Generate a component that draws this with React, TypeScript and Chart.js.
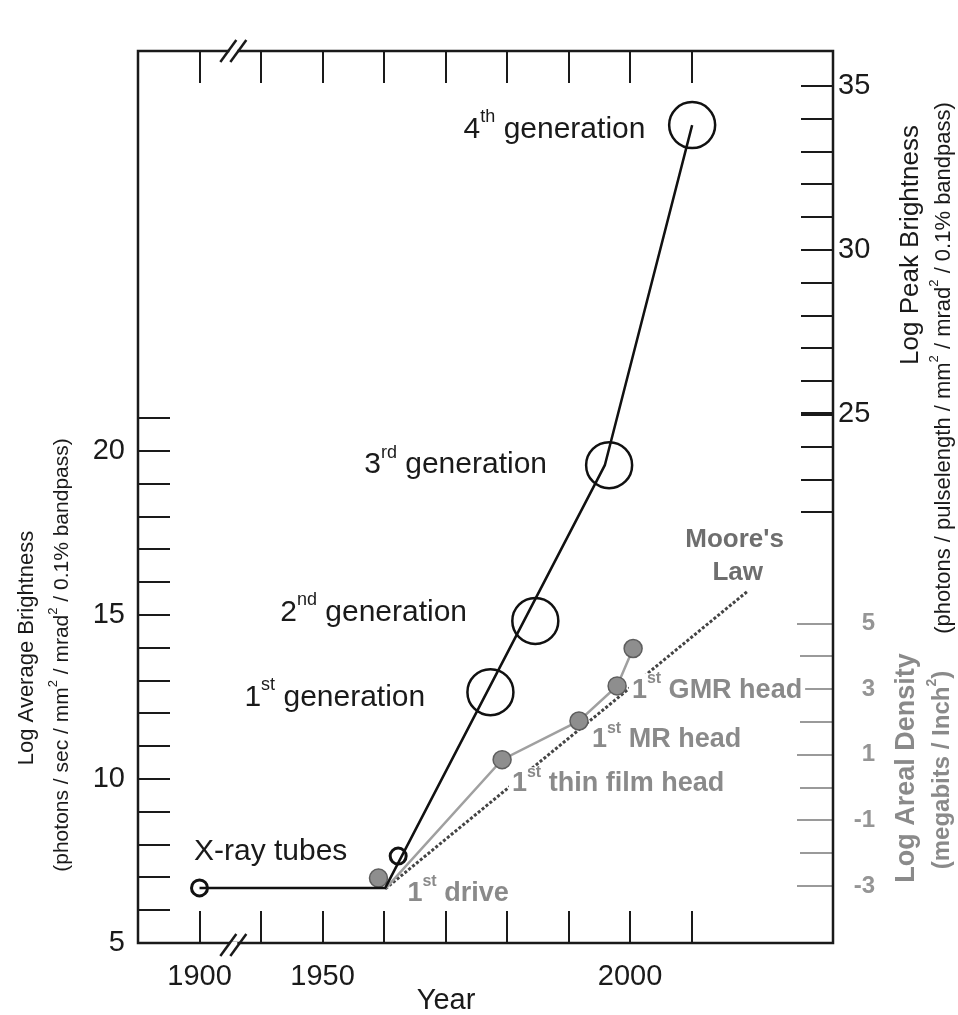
import React, { useEffect, useRef } from 'react';
import { Chart, registerables } from 'chart.js';

Chart.register(...registerables);

const FONT = "'Liberation Sans', Arial, Helvetica, sans-serif";

// ---- x axis (years), broken between 1900 and 1940 ----
const BREAK_SHIFT = 30; // 1900 is drawn where 1930 would be
const toX = (year: number) => (year < 1925 ? year + BREAK_SHIFT : year);
const fromX = (x: number) => (x < 1935 ? x - BREAK_SHIFT : x);
const X_MIN = 1920;
const X_MAX = 2033;
const X_BREAK = 1935.5;
const YEAR_TICKS = [1900, 1940, 1950, 1960, 1970, 1980, 1990, 2000, 2010];
const YEAR_LABELS = [1900, 1950, 2000];

// ---- y axes ----
const AVG_MIN = 5;
const AVG_MAX = 32.2;
const PEAK_OFFSET = 3.87; // log peak = log average + offset on this figure
const AREAL_OFFSET = -9.74; // log areal density = log average + offset
const AVG_TICKS = [6, 7, 8, 9, 10, 11, 12, 13, 14, 15, 16, 17, 18, 19, 20, 21];
const AVG_LABELS = [5, 10, 15, 20];
const PEAK_TICKS = [22, 23, 24, 25, 26, 27, 28, 29, 30, 31, 32, 33, 34, 35];
const PEAK_LABELS = [25, 30, 35];
const PEAK_BOLD_TICK = 25;
const AREAL_TICKS = [-3, -2, -1, 0, 1, 2, 3, 4, 5];
const AREAL_LABELS = [-3, -1, 1, 3, 5];

// ---- X-ray source brightness (log average brightness) ----
const SOURCE_YEARS = [1900, 1960.2, 1995.9, 2010.1];
const SOURCE_VALUES = [6.68, 6.68, 19.57, 29.94];
const GEN_YEARS = [1977.3, 1984.6, 1996.6, 2010.1];
const GEN_VALUES = [12.65, 14.82, 19.57, 29.94];
const GEN_NUM = ['1', '2', '3', '4'];
const GEN_ORD = ['st', 'nd', 'rd', 'th'];
const TUBE_YEARS = [1900, 1962.3];
const TUBE_VALUES = [6.68, 7.65];

// ---- disk drive areal density (log megabits / inch^2) ----
const DRIVE_LINE_YEARS = [1960.2, 1979.2, 1991.7, 1997.9, 2000.5];
const DRIVE_LINE_VALUES = [-3.09, 0.85, 2.03, 3.1, 4.24];
const DRIVE_POINT_YEARS = [1959.1, 1979.2, 1991.7, 1997.9, 2000.5];
const DRIVE_POINT_VALUES = [-2.76, 0.85, 2.03, 3.1, 4.24];
const MOORE_YEARS = [1960.2, 2019.2];
const MOORE_VALUES = [-3.09, 6.0];

// ---- annotation anchors (display-year, axis value) ----
const GEN_LABEL_RIGHT_X = [1966.7, 1973.5, 1986.5, 2002.5];
const GEN_LABEL_Y = [12.47, 15.06, 19.57, 29.79];
const TUBE_LABEL = { x: 1929.1, y: 7.77, text: 'X-ray tubes' };
const DRIVE_LABEL_X = [1963.8, 1980.8, 1993.8, 2000.3];
const DRIVE_LABEL_Y = [-3.22, 0.11, 1.45, 2.97];
const DRIVE_LABEL_TEXT = [' drive', ' thin film head', ' MR head', ' GMR head'];
const MOORE_LABEL_X = [2017.0, 2017.5];
const MOORE_LABEL_Y = [7.55, 6.54];
const MOORE_LABEL_TEXT = ["Moore's", 'Law'];

type Part = { t: string; sup?: boolean };

function partsWidth(ctx: CanvasRenderingContext2D, parts: Part[], size: number, weight: string) {
  let w = 0;
  for (const p of parts) {
    ctx.font = `${weight} ${p.sup ? Math.round(size * 0.6) : size}px ${FONT}`;
    w += ctx.measureText(p.t).width;
  }
  return w;
}

function drawRich(
  ctx: CanvasRenderingContext2D,
  parts: Part[],
  x: number,
  y: number,
  align: 'left' | 'right' | 'center',
  size: number,
  weight: string,
  color: string,
  bg = false
) {
  const w = partsWidth(ctx, parts, size, weight);
  let sx = x;
  if (align === 'right') sx = x - w;
  if (align === 'center') sx = x - w / 2;
  if (bg) {
    ctx.fillStyle = '#ffffff';
    ctx.fillRect(sx - 3, y - size * 0.62, w + 6, size * 1.15);
  }
  ctx.fillStyle = color;
  ctx.textAlign = 'left';
  ctx.textBaseline = 'middle';
  for (const p of parts) {
    const s = p.sup ? Math.round(size * 0.6) : size;
    ctx.font = `${weight} ${s}px ${FONT}`;
    ctx.fillText(p.t, sx, p.sup ? y - size * 0.42 : y);
    sx += ctx.measureText(p.t).width;
  }
}

function drawVertical(
  ctx: CanvasRenderingContext2D,
  parts: Part[],
  cx: number,
  cy: number,
  size: number,
  weight: string,
  color: string
) {
  ctx.save();
  ctx.translate(cx, cy);
  ctx.rotate(-Math.PI / 2);
  drawRich(ctx, parts, 0, 0, 'center', size, weight, color);
  ctx.restore();
}

const framePlugin = {
  id: 'frame',
  beforeDatasetsDraw(chart: any) {
    const ctx: CanvasRenderingContext2D = chart.ctx;
    const { left, right, top, bottom } = chart.chartArea;
    const sx = chart.scales.x;
    const sy = chart.scales.y;
    const sr = chart.scales.yR;
    const sa = chart.scales.yA;
    const ink = '#1a1a1a';
    ctx.save();
    ctx.lineCap = 'butt';
    ctx.strokeStyle = ink;
    ctx.lineWidth = 2;
    const TL = 32;
    for (const yr of YEAR_TICKS) {
      const px = Math.round(sx.getPixelForValue(toX(yr)));
      ctx.beginPath();
      ctx.moveTo(px, bottom);
      ctx.lineTo(px, bottom - TL);
      ctx.moveTo(px, top);
      ctx.lineTo(px, top + TL);
      ctx.stroke();
    }
    for (const v of AVG_TICKS) {
      const py = Math.round(sy.getPixelForValue(v));
      ctx.beginPath();
      ctx.moveTo(left, py);
      ctx.lineTo(left + TL, py);
      ctx.stroke();
    }
    for (const v of PEAK_TICKS) {
      const py = Math.round(sr.getPixelForValue(v));
      ctx.lineWidth = v === PEAK_BOLD_TICK ? 4 : 2;
      ctx.beginPath();
      ctx.moveTo(right, py);
      ctx.lineTo(right - TL, py);
      ctx.stroke();
    }
    ctx.strokeStyle = '#9a9a9a';
    ctx.lineWidth = 2;
    AREAL_TICKS.forEach((v, i) => {
      const py = Math.round(sa.getPixelForValue(v));
      ctx.beginPath();
      ctx.moveTo(right, py);
      ctx.lineTo(right - (i % 2 === 0 ? 36 : 33), py);
      ctx.stroke();
    });
    ctx.strokeStyle = ink;
    ctx.lineWidth = 2.5;
    ctx.beginPath();
    ctx.moveTo(left, top);
    ctx.lineTo(left, bottom);
    ctx.lineTo(right, bottom);
    ctx.lineTo(right, top);
    ctx.lineTo(left, top);
    ctx.closePath();
    ctx.stroke();
    const bx = sx.getPixelForValue(X_BREAK);
    for (const by of [top, bottom + 2]) {
      ctx.fillStyle = '#ffffff';
      ctx.fillRect(bx - 4, by - 3, 8, 6);
      ctx.strokeStyle = ink;
      ctx.lineWidth = 2.5;
      for (const dx of [-5, 5]) {
        ctx.beginPath();
        ctx.moveTo(bx + dx - 8, by + 11);
        ctx.lineTo(bx + dx + 8, by - 11);
        ctx.stroke();
      }
    }
    ctx.restore();
  },
  afterDatasetsDraw(chart: any) {
    const ctx: CanvasRenderingContext2D = chart.ctx;
    const sx = chart.scales.x;
    const sy = chart.scales.y;
    const sa = chart.scales.yA;
    const { right } = chart.chartArea;
    ctx.save();
    const ink = '#1a1a1a';
    const gray = '#8a8a8a';
    for (const v of AREAL_LABELS) {
      drawRich(ctx, [{ t: String(v) }], right + 42, sa.getPixelForValue(v), 'right', 24, 'bold', '#959595');
    }
    GEN_NUM.forEach((n, i) => {
      drawRich(
        ctx,
        [{ t: n }, { t: GEN_ORD[i], sup: true }, { t: ' generation' }],
        sx.getPixelForValue(GEN_LABEL_RIGHT_X[i]),
        sy.getPixelForValue(GEN_LABEL_Y[i]),
        'right',
        30,
        'normal',
        ink
      );
    });
    drawRich(ctx, [{ t: TUBE_LABEL.text }], sx.getPixelForValue(TUBE_LABEL.x), sy.getPixelForValue(TUBE_LABEL.y), 'left', 30, 'normal', ink);
    DRIVE_LABEL_TEXT.forEach((t, i) => {
      drawRich(
        ctx,
        [{ t: '1' }, { t: 'st', sup: true }, { t }],
        sx.getPixelForValue(DRIVE_LABEL_X[i]),
        sa.getPixelForValue(DRIVE_LABEL_Y[i]),
        'left',
        27,
        'bold',
        gray,
        true
      );
    });
    MOORE_LABEL_TEXT.forEach((t, i) => {
      drawRich(ctx, [{ t }], sx.getPixelForValue(MOORE_LABEL_X[i]), sa.getPixelForValue(MOORE_LABEL_Y[i]), 'center', 26, 'bold', '#6e6e6e');
    });
    drawRich(ctx, [{ t: 'Year' }], 446, 1001, 'center', 29, 'normal', ink);
    drawVertical(ctx, [{ t: 'Log Average Brightness' }], 27, 648, 22, 'normal', ink);
    drawVertical(
      ctx,
      [{ t: '(photons / sec / mm' }, { t: '2', sup: true }, { t: ' / mrad' }, { t: '2', sup: true }, { t: ' / 0.1% bandpass)' }],
      62,
      655,
      21,
      'normal',
      ink
    );
    drawVertical(ctx, [{ t: 'Log Peak Brightness' }], 911, 245, 26, 'normal', ink);
    drawVertical(
      ctx,
      [{ t: '(photons / pulselength / mm' }, { t: '2', sup: true }, { t: ' / mrad' }, { t: '2', sup: true }, { t: ' / 0.1% bandpass)' }],
      944,
      368,
      22,
      'normal',
      ink
    );
    drawVertical(ctx, [{ t: 'Log Areal Density' }], 907, 768, 27, 'bold', gray);
    drawVertical(ctx, [{ t: '(megabits / Inch' }, { t: '2', sup: true }, { t: ')' }], 942, 770, 24, 'bold', gray);
    ctx.restore();
  },
};

const pts = (xs: number[], ys: number[]) => xs.map((x, i) => ({ x: toX(x), y: ys[i] }));

export default function App() {
  const ref = useRef<HTMLCanvasElement | null>(null);
  useEffect(() => {
    if (!ref.current) return;
    Chart.defaults.font.family = FONT;
    const chart = new Chart(ref.current, {
      type: 'scatter',
      data: {
        datasets: [
          {
            label: "Moore's Law",
            type: 'line',
            data: pts(MOORE_YEARS, MOORE_VALUES),
            yAxisID: 'yA',
            borderColor: '#444444',
            borderWidth: 3,
            borderDash: [3, 2],
            pointRadius: 0,
            fill: false,
            order: 6,
          },
          {
            label: 'Disk drive',
            type: 'line',
            data: pts(DRIVE_LINE_YEARS, DRIVE_LINE_VALUES),
            yAxisID: 'yA',
            borderColor: '#a0a0a0',
            borderWidth: 2.5,
            pointRadius: 0,
            fill: false,
            order: 5,
          },
          {
            label: 'Disk drive milestones',
            data: pts(DRIVE_POINT_YEARS, DRIVE_POINT_VALUES),
            yAxisID: 'yA',
            backgroundColor: '#8e8e8e',
            borderColor: '#5e5e5e',
            borderWidth: 1.5,
            pointRadius: 9,
            order: 4,
          },
          {
            label: 'X-ray sources',
            type: 'line',
            data: pts(SOURCE_YEARS, SOURCE_VALUES),
            yAxisID: 'y',
            borderColor: '#111111',
            borderWidth: 2.5,
            pointRadius: 0,
            fill: false,
            order: 3,
          },
          {
            label: 'X-ray tubes',
            data: pts(TUBE_YEARS, TUBE_VALUES),
            yAxisID: 'y',
            backgroundColor: 'rgba(255,255,255,0)',
            borderColor: '#111111',
            borderWidth: 3,
            pointRadius: 8,
            order: 2,
          },
          {
            label: 'Synchrotron generations',
            data: pts(GEN_YEARS, GEN_VALUES),
            yAxisID: 'y',
            backgroundColor: 'rgba(255,255,255,0)',
            borderColor: '#111111',
            borderWidth: 2.5,
            pointRadius: 23,
            order: 1,
          },
        ],
      },
      options: {
        animation: false,
        responsive: false,
        maintainAspectRatio: false,
        layout: { padding: { top: 51, left: 0, right: 0, bottom: 0 } },
        plugins: { legend: { display: false }, tooltip: { enabled: false } },
        scales: {
          x: {
            type: 'linear',
            position: 'bottom',
            min: X_MIN,
            max: X_MAX,
            grid: { display: false, drawTicks: false },
            border: { display: false },
            afterFit: (s: any) => {
              s.height = 72;
            },
            afterBuildTicks: (s: any) => {
              s.ticks = YEAR_LABELS.map((v) => ({ value: toX(v) }));
            },
            ticks: {
              autoSkip: false,
              maxRotation: 0,
              padding: 17,
              color: '#1a1a1a',
              font: { size: 29, family: FONT },
              callback: (v: any) => String(Math.round(fromX(Number(v)))),
            },
          },
          y: {
            type: 'linear',
            position: 'left',
            min: AVG_MIN,
            max: AVG_MAX,
            grid: { display: false, drawTicks: false },
            border: { display: false },
            afterFit: (s: any) => {
              s.width = 138;
            },
            afterBuildTicks: (s: any) => {
              s.ticks = AVG_LABELS.map((v) => ({ value: v }));
            },
            ticks: { padding: 13, color: '#1a1a1a', font: { size: 29, family: FONT } },
          },
          yR: {
            type: 'linear',
            position: 'right',
            min: AVG_MIN + PEAK_OFFSET,
            max: AVG_MAX + PEAK_OFFSET,
            grid: { display: false, drawTicks: false },
            border: { display: false },
            afterFit: (s: any) => {
              s.width = 125;
            },
            afterBuildTicks: (s: any) => {
              s.ticks = PEAK_LABELS.map((v) => ({ value: v }));
            },
            ticks: { padding: 5, color: '#1a1a1a', font: { size: 29, family: FONT } },
          },
          yA: {
            type: 'linear',
            display: false,
            min: AVG_MIN + AREAL_OFFSET,
            max: AVG_MAX + AREAL_OFFSET,
          },
        },
      },
      plugins: [framePlugin],
    } as any);
    return () => chart.destroy();
  }, []);
  return (
    <div style={{ position: 'fixed', left: 0, top: 0, width: 958, height: 1015, background: '#ffffff' }}>
      <canvas ref={ref} width={958} height={1015} style={{ display: 'block', width: 958, height: 1015 }} />
    </div>
  );
}
